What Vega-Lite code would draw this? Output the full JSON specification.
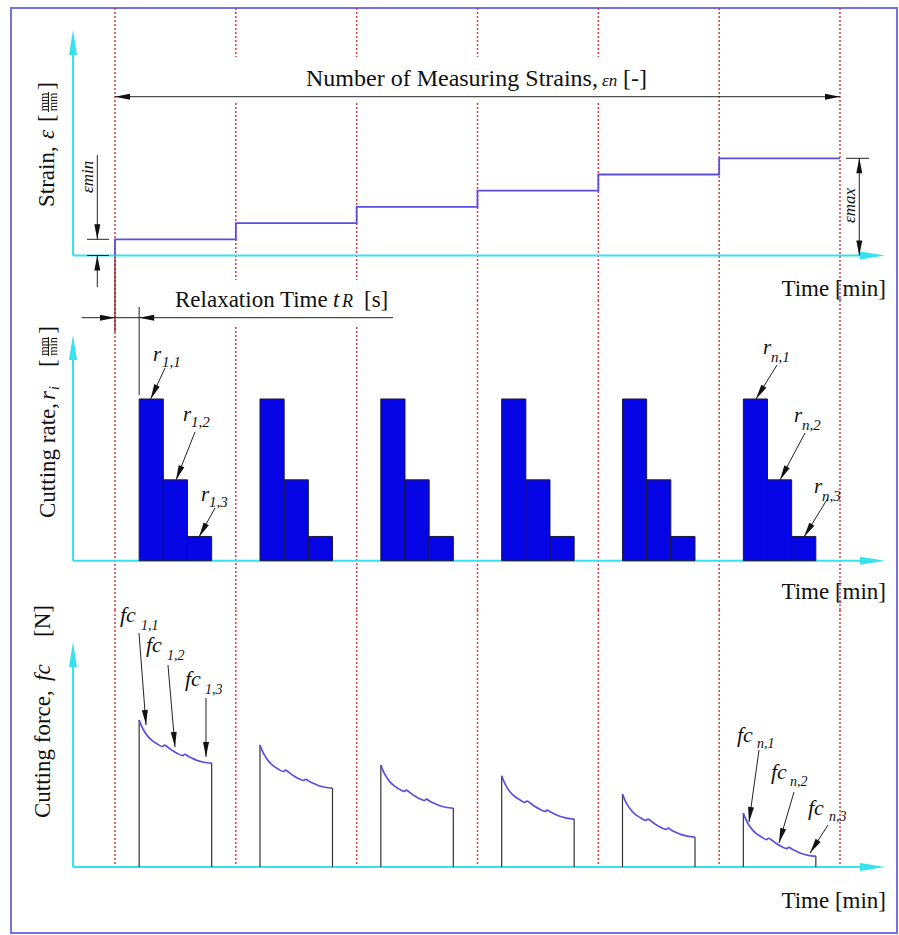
{
"$schema":"https://vega.github.io/schema/vega-lite/v6.json",
"padding":0,
"spacing":0,
"bounds":"flush",
"background":"white",
"config":{"view":{"stroke":null},"font":"Liberation Serif","text":{"font":"Liberation Serif","color":"#111111"}},
"vconcat":[
{
"width":899,"height":300,
"encoding":{
"x":{"field":"t","type":"quantitative","scale":{"domain":[-0.95172,6.48828],"nice":false,"zero":false},"axis":null},
"y":{"field":"v","type":"quantitative","scale":{"domain":[-2.7469,15.7716],"nice":false,"zero":false},"axis":null}
},
"layer":[
{"data":{"values":[{"t":-0.8607,"v":15.278,"t2":-0.8607,"v2":-2.7469},{"t":6.4717,"v":15.278,"t2":6.4717,"v2":-2.7469},{"t":-0.8607,"v":15.278,"t2":6.4717,"v2":15.278}]},
"mark":{"type":"rule","color":"#7272e2","strokeWidth":2,"strokeCap":"square"},
"encoding":{"x2":{"field":"t2"},"y2":{"field":"v2"}}},
{"data":{"values":[
{"t":0,"v":15.278,"t2":0,"v2":-2.7469},
{"t":1,"v":15.278,"t2":1,"v2":12.253},{"t":1,"v":9.414,"t2":1,"v2":-1.512},
{"t":2,"v":15.278,"t2":2,"v2":12.253},{"t":2,"v":9.414,"t2":2,"v2":-1.512},
{"t":3,"v":15.278,"t2":3,"v2":12.253},{"t":3,"v":9.414,"t2":3,"v2":-2.7469},
{"t":4,"v":15.278,"t2":4,"v2":12.253},{"t":4,"v":9.414,"t2":4,"v2":-2.7469},
{"t":5,"v":15.278,"t2":5,"v2":-2.7469},
{"t":6,"v":15.278,"t2":6,"v2":-2.7469}]},
"mark":{"type":"rule","color":"#dc3a40","strokeWidth":1.5,"strokeDash":[2,2]},
"encoding":{"x2":{"field":"t2"},"y2":{"field":"v2"}}},
{"data":{"values":[{"t":0,"v":0,"t2":0,"v2":-2.7469}]},
"mark":{"type":"rule","color":"#8b1e22","strokeWidth":1.3},
"encoding":{"x2":{"field":"t2"},"y2":{"field":"v2"}}},
{"data":{"values":[{"t":-0.3476,"v":0,"t2":-0.3476,"v2":13.3},{"t":-0.3476,"v":0,"t2":6.25,"v2":0}]},
"mark":{"type":"rule","color":"#35e2ee","strokeWidth":2},
"encoding":{"x2":{"field":"t2"},"y2":{"field":"v2"}}},
{"data":{"values":[{"t":-0.3476,"v":13.92,"ang":0},{"t":6.3724,"v":0,"ang":90}]},
"mark":{"type":"point","shape":"M0,0L0.32,2L-0.32,2Z","size":625,"filled":true,"opacity":1,"color":"#35e2ee","strokeWidth":0},
"encoding":{"angle":{"field":"ang","type":"quantitative","scale":null}}},
{"data":{"values":[{"i":0,"t":0,"v":0},{"i":1,"t":0,"v":1},{"i":2,"t":1,"v":2},{"i":3,"t":2,"v":3},{"i":4,"t":3,"v":4},{"i":5,"t":4,"v":5},{"i":6,"t":5,"v":6},{"i":7,"t":6,"v":6}]},
"mark":{"type":"line","interpolate":"step-after","color":"#5b4ee0","strokeWidth":1.8},
"encoding":{"order":{"field":"i","type":"quantitative"}}},
{"data":{"values":[
{"t":0,"v":9.802,"t2":6,"v2":9.802},
{"t":-0.1465,"v":6.204,"t2":-0.1465,"v2":1},
{"t":-0.1465,"v":0,"t2":-0.1465,"v2":-1.944},
{"t":-0.2317,"v":1,"t2":-0.0497,"v2":1},
{"t":-0.2317,"v":0,"t2":-0.0497,"v2":0},
{"t":6.1597,"v":6,"t2":6.1597,"v2":0},
{"t":6.0497,"v":6,"t2":6.24,"v2":6},
{"t":-0.5503,"v":10.093,"t2":-0.5503,"v2":8.858}]},
"mark":{"type":"rule","color":"#222222","strokeWidth":1},
"encoding":{"x2":{"field":"t2"},"y2":{"field":"v2"}}},
{"data":{"values":[{"t":0,"v":9.802,"ang":270},{"t":6,"v":9.802,"ang":90},{"t":-0.1465,"v":1,"ang":180},{"t":-0.1465,"v":0,"ang":0},{"t":6.1597,"v":6,"ang":0},{"t":6.1597,"v":0,"ang":180}]},
"mark":{"type":"point","shape":"M0,0L0.4,2L-0.4,2Z","size":225,"filled":true,"opacity":1,"color":"#111111","strokeWidth":0},
"encoding":{"angle":{"field":"ang","type":"quantitative","scale":null}}},
{"data":{"values":[{"t":1.5807,"v":10.463,"label":"Number of Measuring Strains,"},{"t":4.2041,"v":10.463,"label":"[-]"}]},
"mark":{"type":"text","align":"left","baseline":"alphabetic","fontSize":24},
"encoding":{"text":{"field":"label"}}},
{"data":{"values":[{"t":4.0303,"v":10.463,"label":"εn"}]},
"mark":{"type":"text","align":"left","baseline":"alphabetic","fontSize":17,"fontStyle":"italic"},
"encoding":{"text":{"field":"label"}}},
{"data":{"values":[{"t":6.3807,"v":-2.5,"label":"Time [min]"}]},
"mark":{"type":"text","align":"right","baseline":"alphabetic","fontSize":23},
"encoding":{"text":{"field":"label"}}},
{"data":{"values":[{"t":-0.1821,"v":3.858,"label":"εmin"},{"t":6.1241,"v":2.006,"label":"εmax"}]},
"mark":{"type":"text","align":"left","baseline":"alphabetic","fontSize":17,"fontStyle":"italic","angle":270},
"encoding":{"text":{"field":"label"}}},
{"data":{"values":[{"t":-0.5048,"v":2.994,"label":"Strain,"},{"t":-0.5048,"v":8.241,"label":"["},{"t":-0.5048,"v":10.235,"label":"]"}]},
"mark":{"type":"text","align":"left","baseline":"alphabetic","fontSize":23,"angle":270},
"encoding":{"text":{"field":"label"}}},
{"data":{"values":[{"t":-0.5048,"v":7.191,"label":"ε"}]},
"mark":{"type":"text","align":"left","baseline":"alphabetic","fontSize":23,"fontStyle":"italic","angle":270},
"encoding":{"text":{"field":"label"}}},
{"data":{"values":[{"t":-0.5917,"v":9.475,"label":"mm"},{"t":-0.5131,"v":9.475,"label":"mm"}]},
"mark":{"type":"text","align":"center","baseline":"middle","fontSize":12,"angle":270},
"encoding":{"text":{"field":"label"}}}
]
},
{
"width":899,"height":310,
"encoding":{
"x":{"field":"t","type":"quantitative","scale":{"domain":[-0.95172,6.48828],"nice":false,"zero":false},"axis":null},
"y":{"field":"v","type":"quantitative","scale":{"domain":[-3.0489,16.1224],"nice":false,"zero":false},"axis":null}
},
"layer":[
{"data":{"values":[{"t":-0.8607,"v":16.1224,"t2":-0.8607,"v2":-3.0489},{"t":6.4717,"v":16.1224,"t2":6.4717,"v2":-3.0489}]},
"mark":{"type":"rule","color":"#7272e2","strokeWidth":2},
"encoding":{"x2":{"field":"t2"},"y2":{"field":"v2"}}},
{"data":{"values":[
{"t":0,"v":16.1224,"t2":0,"v2":-3.0489},
{"t":1,"v":14.452,"t2":1,"v2":-3.0489},
{"t":2,"v":14.452,"t2":2,"v2":-3.0489},
{"t":3,"v":16.1224,"t2":3,"v2":-3.0489},
{"t":4,"v":16.1224,"t2":4,"v2":-3.0489},
{"t":5,"v":16.1224,"t2":5,"v2":-3.0489},
{"t":6,"v":16.1224,"t2":6,"v2":-3.0489}]},
"mark":{"type":"rule","color":"#dc3a40","strokeWidth":1.5,"strokeDash":[2,2]},
"encoding":{"x2":{"field":"t2"},"y2":{"field":"v2"}}},
{"data":{"values":[{"t":0,"v":16.1224,"t2":0,"v2":14.144}]},
"mark":{"type":"rule","color":"#8b1e22","strokeWidth":1.3},
"encoding":{"x2":{"field":"t2"},"y2":{"field":"v2"}}},
{"data":{"values":[{"t":-0.3476,"v":0,"t2":-0.3476,"v2":13.3},{"t":-0.3476,"v":0,"t2":6.25,"v2":0}]},
"mark":{"type":"rule","color":"#35e2ee","strokeWidth":2},
"encoding":{"x2":{"field":"t2"},"y2":{"field":"v2"}}},
{"data":{"values":[{"t":-0.3476,"v":13.958,"ang":0},{"t":6.3724,"v":0,"ang":90}]},
"mark":{"type":"point","shape":"M0,0L0.32,2L-0.32,2Z","size":625,"filled":true,"opacity":1,"color":"#35e2ee","strokeWidth":0},
"encoding":{"angle":{"field":"ang","type":"quantitative","scale":null}}},
{"data":{"values":[
{"t":0.2,"t2":0.4,"v":10,"v2":0},{"t":0.4,"t2":0.6,"v":5,"v2":0},{"t":0.6,"t2":0.8,"v":1.5,"v2":0},
{"t":1.2,"t2":1.4,"v":10,"v2":0},{"t":1.4,"t2":1.6,"v":5,"v2":0},{"t":1.6,"t2":1.8,"v":1.5,"v2":0},
{"t":2.2,"t2":2.4,"v":10,"v2":0},{"t":2.4,"t2":2.6,"v":5,"v2":0},{"t":2.6,"t2":2.8,"v":1.5,"v2":0},
{"t":3.2,"t2":3.4,"v":10,"v2":0},{"t":3.4,"t2":3.6,"v":5,"v2":0},{"t":3.6,"t2":3.8,"v":1.5,"v2":0},
{"t":4.2,"t2":4.4,"v":10,"v2":0},{"t":4.4,"t2":4.6,"v":5,"v2":0},{"t":4.6,"t2":4.8,"v":1.5,"v2":0},
{"t":5.2,"t2":5.4,"v":10,"v2":0},{"t":5.4,"t2":5.6,"v":5,"v2":0},{"t":5.6,"t2":5.8,"v":1.5,"v2":0}]},
"mark":{"type":"rect","fill":"#0505e6","stroke":"#1a1a3a","strokeWidth":1},
"encoding":{"x2":{"field":"t2"},"y2":{"field":"v2"}}},
{"data":{"values":[
{"t":-0.2756,"v":15.028,"t2":2.3007,"v2":15.028},
{"t":0.2,"v":15.69,"t2":0.2,"v2":10.25},
{"t":0.4138,"v":11.917,"t2":0.2954,"v2":10.0},
{"t":0.6621,"v":7.959,"t2":0.5048,"v2":4.991},
{"t":0.8276,"v":3.259,"t2":0.6952,"v2":1.466},
{"t":5.4786,"v":12.103,"t2":5.3048,"v2":10.0},
{"t":5.7103,"v":7.897,"t2":5.5034,"v2":4.991},
{"t":5.9007,"v":3.878,"t2":5.7021,"v2":1.466},
{"t":-0.5503,"v":13.834,"t2":-0.5503,"v2":12.659}]},
"mark":{"type":"rule","color":"#222222","strokeWidth":1},
"encoding":{"x2":{"field":"t2"},"y2":{"field":"v2"}}},
{"data":{"values":[
{"t":0,"v":15.028,"ang":90},{"t":0.2,"v":15.028,"ang":270},
{"t":0.2954,"v":10,"ang":204.8},{"t":0.5048,"v":4.991,"ang":201.6},{"t":0.6952,"v":1.466,"ang":208.9},
{"t":5.3048,"v":10,"ang":211.7},{"t":5.5034,"v":4.991,"ang":208},{"t":5.7021,"v":1.466,"ang":211.6}]},
"mark":{"type":"point","shape":"M0,0L0.4,2L-0.4,2Z","size":225,"filled":true,"opacity":1,"color":"#111111","strokeWidth":0},
"encoding":{"angle":{"field":"ang","type":"quantitative","scale":null}}},
{"data":{"values":[{"t":0.4966,"v":15.689,"label":"Relaxation Time"},{"t":2.0607,"v":15.689,"label":"[s]"}]},
"mark":{"type":"text","align":"left","baseline":"alphabetic","fontSize":23},
"encoding":{"text":{"field":"label"}}},
{"data":{"values":[{"t":1.8041,"v":15.689,"label":"t"}]},
"mark":{"type":"text","align":"left","baseline":"alphabetic","fontSize":23,"fontStyle":"italic"},
"encoding":{"text":{"field":"label"}}},
{"data":{"values":[{"t":1.8786,"v":15.689,"label":"R"}]},
"mark":{"type":"text","align":"left","baseline":"alphabetic","fontSize":18,"fontStyle":"italic"},
"encoding":{"text":{"field":"label"}}},
{"data":{"values":[{"t":6.3807,"v":-2.369,"label":"Time [min]"}]},
"mark":{"type":"text","align":"right","baseline":"alphabetic","fontSize":23},
"encoding":{"text":{"field":"label"}}},
{"data":{"values":[
{"t":0.3145,"v":12.721,"label":"r"},{"t":0.5628,"v":9.011,"label":"r"},{"t":0.7117,"v":4.063,"label":"r"},
{"t":5.3628,"v":13.154,"label":"r"},{"t":5.6193,"v":8.949,"label":"r"},{"t":5.7848,"v":4.558,"label":"r"}]},
"mark":{"type":"text","align":"left","baseline":"middle","fontSize":21,"fontStyle":"italic"},
"encoding":{"text":{"field":"label"}}},
{"data":{"values":[
{"t":0.389,"v":12.288,"label":"1,1"},{"t":0.629,"v":8.578,"label":"1,2"},{"t":0.7779,"v":3.63,"label":"1,3"},
{"t":5.429,"v":12.598,"label":"n,1"},{"t":5.6855,"v":8.392,"label":"n,2"},{"t":5.851,"v":4.001,"label":"n,3"}]},
"mark":{"type":"text","align":"left","baseline":"middle","fontSize":15,"fontStyle":"italic"},
"encoding":{"text":{"field":"label"}}},
{"data":{"values":[{"t":-0.4966,"v":2.641,"label":"Cutting rate,"},{"t":-0.4966,"v":11.979,"label":"["},{"t":-0.4966,"v":14.038,"label":"]"}]},
"mark":{"type":"text","align":"left","baseline":"alphabetic","fontSize":23,"angle":270},
"encoding":{"text":{"field":"label"}}},
{"data":{"values":[{"t":-0.4966,"v":9.938,"label":"r"}]},
"mark":{"type":"text","align":"left","baseline":"alphabetic","fontSize":23,"fontStyle":"italic","angle":270},
"encoding":{"text":{"field":"label"}}},
{"data":{"values":[{"t":-0.4634,"v":10.557,"label":"i"}]},
"mark":{"type":"text","align":"left","baseline":"alphabetic","fontSize":14,"fontStyle":"italic","angle":270},
"encoding":{"text":{"field":"label"}}},
{"data":{"values":[{"t":-0.5917,"v":13.247,"label":"mm"},{"t":-0.5131,"v":13.247,"label":"min"}]},
"mark":{"type":"text","align":"center","baseline":"middle","fontSize":12,"angle":270},
"encoding":{"text":{"field":"label"}}}
]
},
{
"width":899,"height":325,
"encoding":{
"x":{"field":"t","type":"quantitative","scale":{"domain":[-0.95172,6.48828],"nice":false,"zero":false},"axis":null},
"y":{"field":"v","type":"quantitative","scale":{"domain":[-46.259,174.83],"nice":false,"zero":false},"axis":null}
},
"layer":[
{"data":{"values":[{"t":-0.8607,"v":174.83,"t2":-0.8607,"v2":-44.898},{"t":6.4717,"v":174.83,"t2":6.4717,"v2":-44.898},{"t":-0.8607,"v":-44.898,"t2":6.4717,"v2":-44.898}]},
"mark":{"type":"rule","color":"#7272e2","strokeWidth":2,"strokeCap":"square"},
"encoding":{"x2":{"field":"t2"},"y2":{"field":"v2"}}},
{"data":{"values":[
{"t":0,"v":174.83,"t2":0,"v2":0},{"t":1,"v":174.83,"t2":1,"v2":0},{"t":2,"v":174.83,"t2":2,"v2":0},
{"t":3,"v":174.83,"t2":3,"v2":0},{"t":4,"v":174.83,"t2":4,"v2":0},{"t":5,"v":174.83,"t2":5,"v2":0},{"t":6,"v":174.83,"t2":6,"v2":0}]},
"mark":{"type":"rule","color":"#dc3a40","strokeWidth":1.5,"strokeDash":[2,2]},
"encoding":{"x2":{"field":"t2"},"y2":{"field":"v2"}}},
{"data":{"values":[{"t":-0.3476,"v":0,"t2":-0.3476,"v2":146},{"t":-0.3476,"v":0,"t2":6.25,"v2":0}]},
"mark":{"type":"rule","color":"#35e2ee","strokeWidth":2},
"encoding":{"x2":{"field":"t2"},"y2":{"field":"v2"}}},
{"data":{"values":[{"t":-0.3476,"v":153.06,"ang":0},{"t":6.3724,"v":0,"ang":90}]},
"mark":{"type":"point","shape":"M0,0L0.32,2L-0.32,2Z","size":625,"filled":true,"opacity":1,"color":"#35e2ee","strokeWidth":0},
"encoding":{"angle":{"field":"ang","type":"quantitative","scale":null}}},
{"data":{"values":[
{"t":0.2,"v":0,"t2":0.2,"v2":100},{"t":0.8,"v":0,"t2":0.8,"v2":70.7},
{"t":1.2,"v":0,"t2":1.2,"v2":83},{"t":1.8,"v":0,"t2":1.8,"v2":53.7},
{"t":2.2,"v":0,"t2":2.2,"v2":69.4},{"t":2.8,"v":0,"t2":2.8,"v2":40.1},
{"t":3.2,"v":0,"t2":3.2,"v2":62},{"t":3.8,"v":0,"t2":3.8,"v2":32.7},
{"t":4.2,"v":0,"t2":4.2,"v2":49.7},{"t":4.8,"v":0,"t2":4.8,"v2":20.4},
{"t":5.2,"v":0,"t2":5.2,"v2":36.7},{"t":5.8,"v":0,"t2":5.8,"v2":7.4}]},
"mark":{"type":"rule","color":"#333333","strokeWidth":1.2},
"encoding":{"x2":{"field":"t2"},"y2":{"field":"v2"}}},
{"data":{"values":[
{"c":1,"t":0.2,"v":100},{"c":1,"t":0.218,"v":96.19},{"c":1,"t":0.242,"v":92.38},{"c":1,"t":0.272,"v":88.87},{"c":1,"t":0.308,"v":85.94},{"c":1,"t":0.35,"v":83.74},{"c":1,"t":0.392,"v":81.98},{"c":1,"t":0.41,"v":82.86},{"c":1,"t":0.434,"v":81.69},{"c":1,"t":0.47,"v":79.49},{"c":1,"t":0.512,"v":77.44},{"c":1,"t":0.56,"v":75.83},{"c":1,"t":0.578,"v":76.71},{"c":1,"t":0.602,"v":75.53},{"c":1,"t":0.644,"v":73.78},{"c":1,"t":0.686,"v":72.31},{"c":1,"t":0.728,"v":71.43},{"c":1,"t":0.764,"v":70.91},{"c":1,"t":0.8,"v":70.7},
{"c":2,"t":1.2,"v":83},{"c":2,"t":1.218,"v":79.19},{"c":2,"t":1.242,"v":75.38},{"c":2,"t":1.272,"v":71.87},{"c":2,"t":1.308,"v":68.94},{"c":2,"t":1.35,"v":66.74},{"c":2,"t":1.392,"v":64.98},{"c":2,"t":1.41,"v":65.86},{"c":2,"t":1.434,"v":64.69},{"c":2,"t":1.47,"v":62.49},{"c":2,"t":1.512,"v":60.44},{"c":2,"t":1.56,"v":58.83},{"c":2,"t":1.578,"v":59.71},{"c":2,"t":1.602,"v":58.53},{"c":2,"t":1.644,"v":56.78},{"c":2,"t":1.686,"v":55.31},{"c":2,"t":1.728,"v":54.43},{"c":2,"t":1.764,"v":53.91},{"c":2,"t":1.8,"v":53.7},
{"c":3,"t":2.2,"v":69.4},{"c":3,"t":2.218,"v":65.59},{"c":3,"t":2.242,"v":61.78},{"c":3,"t":2.272,"v":58.27},{"c":3,"t":2.308,"v":55.34},{"c":3,"t":2.35,"v":53.14},{"c":3,"t":2.392,"v":51.38},{"c":3,"t":2.41,"v":52.26},{"c":3,"t":2.434,"v":51.09},{"c":3,"t":2.47,"v":48.89},{"c":3,"t":2.512,"v":46.84},{"c":3,"t":2.56,"v":45.23},{"c":3,"t":2.578,"v":46.11},{"c":3,"t":2.602,"v":44.93},{"c":3,"t":2.644,"v":43.18},{"c":3,"t":2.686,"v":41.71},{"c":3,"t":2.728,"v":40.83},{"c":3,"t":2.764,"v":40.31},{"c":3,"t":2.8,"v":40.1},
{"c":4,"t":3.2,"v":62},{"c":4,"t":3.218,"v":58.19},{"c":4,"t":3.242,"v":54.38},{"c":4,"t":3.272,"v":50.87},{"c":4,"t":3.308,"v":47.94},{"c":4,"t":3.35,"v":45.74},{"c":4,"t":3.392,"v":43.98},{"c":4,"t":3.41,"v":44.86},{"c":4,"t":3.434,"v":43.69},{"c":4,"t":3.47,"v":41.49},{"c":4,"t":3.512,"v":39.44},{"c":4,"t":3.56,"v":37.83},{"c":4,"t":3.578,"v":38.71},{"c":4,"t":3.602,"v":37.53},{"c":4,"t":3.644,"v":35.78},{"c":4,"t":3.686,"v":34.31},{"c":4,"t":3.728,"v":33.43},{"c":4,"t":3.764,"v":32.91},{"c":4,"t":3.8,"v":32.7},
{"c":5,"t":4.2,"v":49.7},{"c":5,"t":4.218,"v":45.89},{"c":5,"t":4.242,"v":42.08},{"c":5,"t":4.272,"v":38.57},{"c":5,"t":4.308,"v":35.64},{"c":5,"t":4.35,"v":33.44},{"c":5,"t":4.392,"v":31.68},{"c":5,"t":4.41,"v":32.56},{"c":5,"t":4.434,"v":31.39},{"c":5,"t":4.47,"v":29.19},{"c":5,"t":4.512,"v":27.14},{"c":5,"t":4.56,"v":25.53},{"c":5,"t":4.578,"v":26.41},{"c":5,"t":4.602,"v":25.23},{"c":5,"t":4.644,"v":23.48},{"c":5,"t":4.686,"v":22.01},{"c":5,"t":4.728,"v":21.13},{"c":5,"t":4.764,"v":20.61},{"c":5,"t":4.8,"v":20.4},
{"c":6,"t":5.2,"v":36.7},{"c":6,"t":5.218,"v":32.89},{"c":6,"t":5.242,"v":29.08},{"c":6,"t":5.272,"v":25.57},{"c":6,"t":5.308,"v":22.64},{"c":6,"t":5.35,"v":20.44},{"c":6,"t":5.392,"v":18.68},{"c":6,"t":5.41,"v":19.56},{"c":6,"t":5.434,"v":18.39},{"c":6,"t":5.47,"v":16.19},{"c":6,"t":5.512,"v":14.14},{"c":6,"t":5.56,"v":12.53},{"c":6,"t":5.578,"v":13.41},{"c":6,"t":5.602,"v":12.23},{"c":6,"t":5.644,"v":10.48},{"c":6,"t":5.686,"v":9.01},{"c":6,"t":5.728,"v":8.13},{"c":6,"t":5.764,"v":7.61},{"c":6,"t":5.8,"v":7.4}]},
"mark":{"type":"line","interpolate":"monotone","color":"#5b4ee0","strokeWidth":1.7},
"encoding":{"detail":{"field":"c","type":"nominal"}}},
{"data":{"values":[
{"t":0.1986,"v":159.18,"t2":0.2566,"v2":96.6},
{"t":0.4386,"v":137.41,"t2":0.4966,"v2":81.63},
{"t":0.7531,"v":114.97,"t2":0.7531,"v2":74.83},
{"t":5.3297,"v":79.59,"t2":5.2469,"v2":30.61},
{"t":5.6193,"v":51.02,"t2":5.4952,"v2":16.33},
{"t":5.9007,"v":28.57,"t2":5.7517,"v2":9.52}]},
"mark":{"type":"rule","color":"#222222","strokeWidth":1},
"encoding":{"x2":{"field":"t2"},"y2":{"field":"v2"}}},
{"data":{"values":[
{"t":0.2566,"v":96.6,"ang":175.6},{"t":0.4966,"v":81.63,"ang":175.1},{"t":0.7531,"v":74.83,"ang":180},
{"t":5.2469,"v":30.61,"ang":187.9},{"t":5.4952,"v":16.33,"ang":196.4},{"t":5.7517,"v":9.52,"ang":212.7}]},
"mark":{"type":"point","shape":"M0,0L0.4,2L-0.4,2Z","size":225,"filled":true,"opacity":1,"color":"#111111","strokeWidth":0},
"encoding":{"angle":{"field":"ang","type":"quantitative","scale":null}}},
{"data":{"values":[{"t":6.3807,"v":-27.89,"label":"Time [min]"}]},
"mark":{"type":"text","align":"right","baseline":"alphabetic","fontSize":23},
"encoding":{"text":{"field":"label"}}},
{"data":{"values":[
{"t":0.0414,"v":166.67,"label":"fc"},{"t":0.2566,"v":146.26,"label":"fc"},{"t":0.5793,"v":123.13,"label":"fc"},
{"t":5.1476,"v":85.03,"label":"fc"},{"t":5.429,"v":59.86,"label":"fc"},{"t":5.7352,"v":35.37,"label":"fc"}]},
"mark":{"type":"text","align":"left","baseline":"alphabetic","fontSize":22,"fontStyle":"italic"},
"encoding":{"text":{"field":"label"}}},
{"data":{"values":[
{"t":0.2152,"v":161.22,"label":"1,1"},{"t":0.4303,"v":140.82,"label":"1,2"},{"t":0.7448,"v":117.69,"label":"1,3"},
{"t":5.3131,"v":80.95,"label":"n,1"},{"t":5.5862,"v":55.1,"label":"n,2"},{"t":5.909,"v":31.29,"label":"n,3"}]},
"mark":{"type":"text","align":"left","baseline":"alphabetic","fontSize":14,"fontStyle":"italic"},
"encoding":{"text":{"field":"label"}}},
{"data":{"values":[{"t":-0.5379,"v":33.333,"label":"Cutting force,"},{"t":-0.5379,"v":156.46,"label":"[N]"}]},
"mark":{"type":"text","align":"left","baseline":"alphabetic","fontSize":23,"angle":270},
"encoding":{"text":{"field":"label"}}},
{"data":{"values":[{"t":-0.5379,"v":126.53,"label":"fc"}]},
"mark":{"type":"text","align":"left","baseline":"alphabetic","fontSize":23,"fontStyle":"italic","angle":270},
"encoding":{"text":{"field":"label"}}}
]
}
]
}
